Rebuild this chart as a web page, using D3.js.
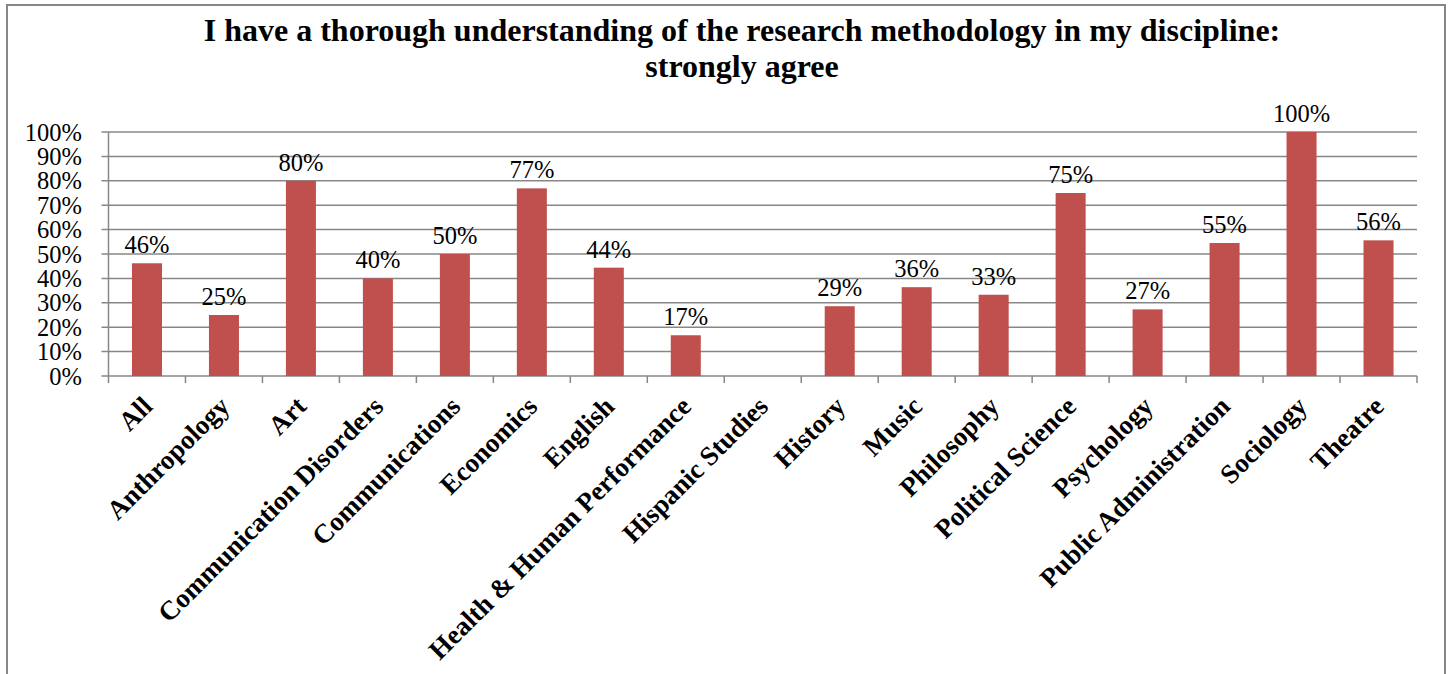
<!DOCTYPE html>
<html>
<head>
<meta charset="utf-8">
<script src="https://cdn.jsdelivr.net/npm/d3@7"></script>
<style>
  body { margin: 0; background: #fff; }
  svg { display: block; }
</style>
</head>
<body>
<script>
// chart data
const categories = ["All", "Anthropology", "Art", "Communication Disorders", "Communications",
  "Economics", "English", "Health & Human Performance", "Hispanic Studies", "History", "Music",
  "Philosophy", "Political Science", "Psychology", "Public Administration", "Sociology", "Theatre"];
const values = [0.462, 0.25, 0.80, 0.40, 0.50, 0.769, 0.444, 0.167, null, 0.286, 0.364,
  0.333, 0.75, 0.273, 0.545, 1.0, 0.556];
const yTicks = [0, 0.1, 0.2, 0.3, 0.4, 0.5, 0.6, 0.7, 0.8, 0.9, 1.0];
const titleLines = ["I have a thorough understanding of the research methodology in my discipline:",
  "strongly agree"];

const width = 1448, height = 674;
const margin = { top: 132, right: 31, bottom: 298, left: 108.5 };
const grey = "#878787";
const serif = "Liberation Serif, Times New Roman, serif";

const svg = d3.select("body").append("svg")
  .attr("width", width)
  .attr("height", height);

// outer frame
svg.append("rect")
  .attr("x", 7).attr("y", 5)
  .attr("width", 1438).attr("height", 700)
  .attr("fill", "none")
  .attr("stroke", grey)
  .attr("stroke-width", 2);

// title
svg.append("g")
  .selectAll("text")
  .data(titleLines)
  .join("text")
  .attr("x", 742)
  .attr("y", (d, i) => 41 + i * 36)
  .attr("text-anchor", "middle")
  .attr("font-family", serif)
  .attr("font-weight", "bold")
  .attr("font-size", 32)
  .text(d => d);

const x = d3.scaleBand()
  .domain(categories)
  .range([margin.left, width - margin.right])
  .paddingInner(0.61)
  .paddingOuter(0.305);

const y = d3.scaleLinear()
  .domain([0, 1])
  .range([height - margin.bottom, margin.top]);

// gridlines
svg.append("g")
  .selectAll("line")
  .data(yTicks)
  .join("line")
  .attr("x1", margin.left - 7)
  .attr("x2", width - margin.right)
  .attr("y1", d => y(d))
  .attr("y2", d => y(d))
  .attr("stroke", grey)
  .attr("stroke-width", 1.5);

// y axis labels
svg.append("g")
  .selectAll("text")
  .data(yTicks)
  .join("text")
  .attr("x", 82)
  .attr("y", d => y(d))
  .attr("dy", "0.35em")
  .attr("text-anchor", "end")
  .attr("font-family", serif)
  .attr("font-size", 24.5)
  .text(d => d3.format(".0%")(d));

// y axis line
svg.append("line")
  .attr("x1", margin.left).attr("x2", margin.left)
  .attr("y1", y(1)).attr("y2", y(0))
  .attr("stroke", grey)
  .attr("stroke-width", 1.5);

// x ticks at category boundaries
const step = x.step();
const boundaries = d3.range(categories.length + 1).map(i => margin.left + i * step);
svg.append("g")
  .selectAll("line")
  .data(boundaries)
  .join("line")
  .attr("x1", d => d).attr("x2", d => d)
  .attr("y1", y(0)).attr("y2", y(0) + 7)
  .attr("stroke", grey)
  .attr("stroke-width", 1.5);

// bars
const data = categories.map((c, i) => ({ name: c, value: values[i] }));
svg.append("g")
  .selectAll("rect")
  .data(data.filter(d => d.value != null))
  .join("rect")
  .attr("x", d => x(d.name))
  .attr("y", d => y(d.value))
  .attr("width", x.bandwidth())
  .attr("height", d => y(0) - y(d.value))
  .attr("fill", "#C0504D");

// data labels
svg.append("g")
  .selectAll("text")
  .data(data.filter(d => d.value != null))
  .join("text")
  .attr("x", d => x(d.name) + x.bandwidth() / 2)
  .attr("y", d => y(d.value) - 10)
  .attr("text-anchor", "middle")
  .attr("font-family", serif)
  .attr("font-size", 24.5)
  .text(d => d3.format(".0%")(d.value));

// category labels
svg.append("g")
  .selectAll("text")
  .data(categories)
  .join("text")
  .attr("transform", d => `translate(${x(d) + x.bandwidth() / 2 + 7},${y(0) + 32}) rotate(-45)`)
  .attr("text-anchor", "end")
  .attr("font-family", serif)
  .attr("font-weight", "bold")
  .attr("font-size", 27)
  .text(d => d);
</script>
</body>
</html>
